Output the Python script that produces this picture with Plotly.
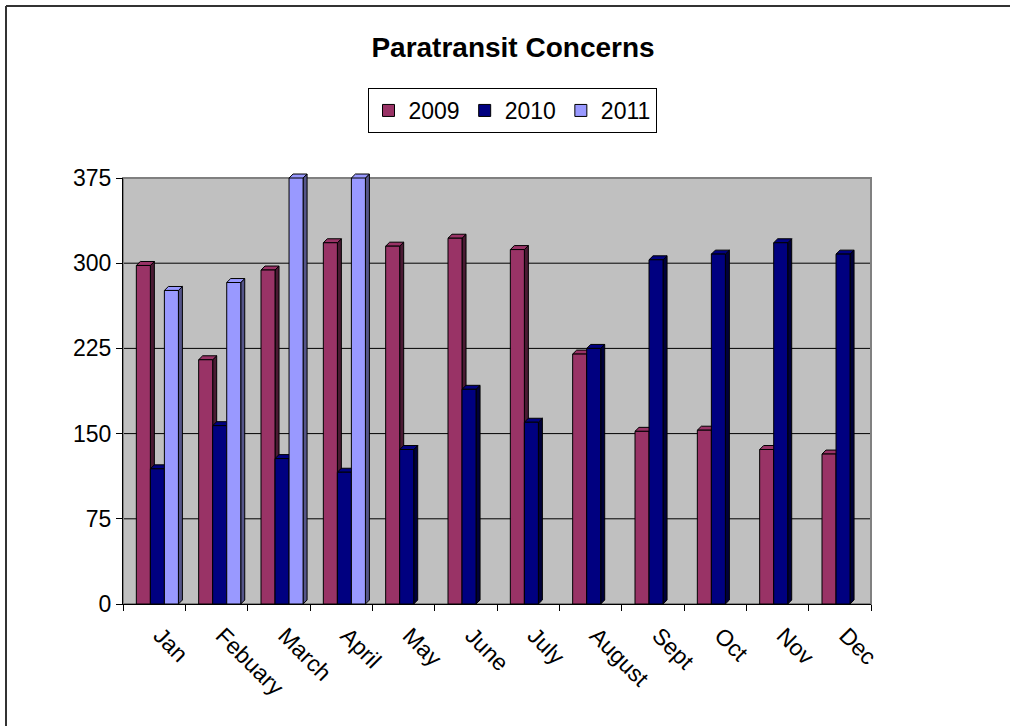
import plotly.graph_objects as go

# Monthly paratransit concern counts
months = ["Jan", "Febuary", "March", "April", "May", "June",
          "July", "August", "Sept", "Oct", "Nov", "Dec"]
y2009 = [298, 215, 294, 318, 315, 322, 312, 220, 152, 153, 136, 132]
y2010 = [119, 157, 128, 116, 136, 189, 160, 225, 303, 308, 318, 308]
y2011 = [276, 283, 375, 375, None, None, None, None, None, None, None, None]
y_ticks = [0, 75, 150, 225, 300, 375]

series = [
    ("2009", y2009, "#993366", "#4a1a33", -0.286),
    ("2010", y2010, "#000080", "#00003a", -0.061),
    ("2011", y2011, "#9999FF", "#55558a", 0.164),
]

Y_MAX = 375
BAR_W = 0.225      # front-face width in category units
DX = 0.064         # pseudo-3D depth, x direction (category units)
DY = 3.5           # pseudo-3D depth, y direction (value units)

FONT = "Arial, 'Liberation Sans', sans-serif"
xs = list(range(len(months)))

fig = go.Figure()
shapes = []

# back wall gridlines (kept behind the bars)
for t in y_ticks[1:-1]:
    shapes.append(dict(type="line", xref="x domain", yref="y", x0=0, x1=1, y0=t, y1=t,
                       line=dict(color="#000000", width=1), layer="below"))
# wall border
shapes.append(dict(type="rect", xref="x domain", yref="y domain", x0=0, x1=1, y0=0, y1=1,
                   line=dict(color="#808080", width=2), layer="below"))

def yp(v):
    # value -> plot-height fraction, so caps may rise above the wall top
    return v / Y_MAX

for name, vals, front, side, off in series:
    fig.add_trace(go.Bar(
        name=name, x=xs, y=vals, offset=off, width=BAR_W,
        marker=dict(color=front, line=dict(color="black", width=1)),
    ))
    # side and top faces of each column, derived from its value
    for x, v in zip(xs, vals):
        if v is None:
            continue
        L = x + off
        R = L + BAR_W
        side_path = (f"M {R},{yp(0)} L {R + DX},{yp(DY)} L {R + DX},{yp(v + DY)} "
                     f"L {R},{yp(v)} Z")
        top_path = (f"M {L},{yp(v)} L {L + DX},{yp(v + DY)} L {R + DX},{yp(v + DY)} "
                    f"L {R},{yp(v)} Z")
        shapes.append(dict(type="path", xref="x", yref="paper", path=side_path,
                           fillcolor=side, line=dict(color="black", width=1), layer="between"))
        shapes.append(dict(type="path", xref="x", yref="paper", path=top_path,
                           fillcolor=front, line=dict(color="black", width=1), layer="between"))

# chart frame (top and left edges)
W, H = 1010, 726
ML, MR, MT, MB = 123, 139, 178, 122
pw, ph = W - ML - MR, H - MT - MB
px = lambda p: (p - ML) / pw
py = lambda p: (H - MB - p) / ph
shapes.append(dict(type="line", xref="paper", yref="paper",
                   x0=px(6), x1=px(W), y0=py(6), y1=py(6),
                   line=dict(color="#333333", width=2)))
shapes.append(dict(type="line", xref="paper", yref="paper",
                   x0=px(6), x1=px(6), y0=py(6), y1=py(H),
                   line=dict(color="#333333", width=2)))

fig.update_layout(
    width=W, height=H,
    margin=dict(l=ML, r=MR, t=MT, b=MB, pad=0),
    paper_bgcolor="white",
    plot_bgcolor="#C0C0C0",
    barmode="overlay",
    showlegend=True,
    shapes=shapes,
    title=dict(text="<b>Paratransit Concerns</b>", x=513 / W, xref="container", xanchor="center",
               y=1 - 47 / H, yref="container", yanchor="middle",
               font=dict(family=FONT, size=28, color="black")),
    legend=dict(orientation="h", xref="container", yref="container",
                x=512 / W, y=1 - 88 / H, xanchor="center", yanchor="top",
                bordercolor="black", borderwidth=1, bgcolor="white",
                font=dict(family=FONT, size=23, color="black"),
                traceorder="normal"),
    font=dict(family=FONT, size=23, color="black"),
)

fig.update_xaxes(
    range=[-0.5, len(months) - 0.5],
    tickmode="array", tickvals=xs, ticktext=months, tickangle=45,
    ticks="", showgrid=False, zeroline=False,
    showline=True, linecolor="black", linewidth=1,
    tickfont=dict(family=FONT, size=23, color="black"),
    ticklabelstandoff=8, ticklabelshift=6,
    minor=dict(tickmode="array", tickvals=[i - 0.5 for i in range(len(months) + 1)],
               ticks="outside", ticklen=6, tickcolor="black", tickwidth=1, showgrid=False),
)
fig.update_yaxes(
    range=[0, Y_MAX], tickmode="array", tickvals=y_ticks,
    ticks="outside", ticklen=6, tickcolor="black",
    showgrid=False, zeroline=False,
    showline=True, linecolor="black", linewidth=1,
    tickfont=dict(family=FONT, size=23, color="black"),
)

fig.write_html("out.html")
